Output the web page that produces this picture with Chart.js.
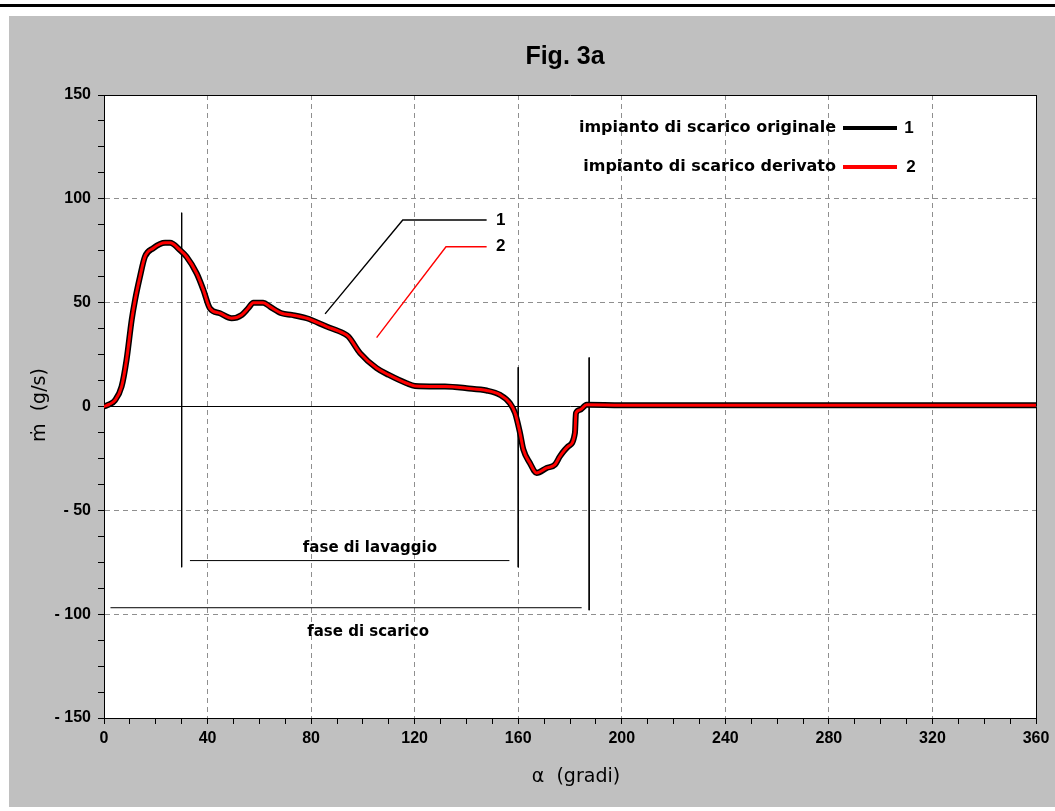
<!DOCTYPE html>
<html lang="it">
<head>
<meta charset="utf-8">
<title>Fig. 3a</title>
<script src="https://cdn.jsdelivr.net/npm/chart.js@4.4.0/dist/chart.umd.min.js"></script>
<style>
  html, body { margin: 0; padding: 0; background: #fff; }
  canvas { display: block; }
</style>
</head>
<body>
<canvas id="fig3a" width="1055" height="811"></canvas>
<script>
// angolo di manovella (gradi) e portata (g/s)
const alpha = [0, 2, 4.2, 6.8, 8.7, 10.7, 12, 13.9, 15.8, 19, 23.6, 25.5, 29.4, 31.9, 35.8, 38.4,
    40.9, 44.8, 49.3, 53.2, 55.7, 57.7, 61.5, 64.1, 68.6, 72.5, 78.3, 86, 92.4, 94.4, 98.9,
    105.3, 110, 116.9, 120.1, 131.7, 140.1, 147.8, 153, 156.8, 158.8, 160.7, 162, 164.5,
    167.1, 171, 174.2, 176.1, 179.3, 181.9, 182.3, 183.9, 186.4, 200, 360];
const originale = [0, 1, 2.9, 9.6, 22.4, 41.7, 51.3, 62.5, 72.1, 76.2, 78.8, 78.8, 75.3, 72.1, 64.1, 56.1,
    47.3, 44.9, 42.5, 44.1, 47.3, 50, 50, 48.1, 44.9, 44.1, 42.5, 38.5, 35.3, 33.7, 25.7,
    18.5, 15.2, 11.2, 9.9, 9.6, 8.8, 7.7, 5.6, 1.6, -3.2, -12.8, -20.8, -27.2,
    -32, -29.6, -28, -24, -19.2, -12.8, -3.2, -1.6, 0.8, 0.6, 0.6];
const derivato = [0, 1, 2.9, 9.6, 22.4, 41.7, 51.3, 62.5, 72.1, 76.2, 78.8, 78.8, 75.3, 72.1, 64.1, 56.1,
    47.3, 44.9, 42.5, 44.1, 47.3, 50, 50, 48.1, 44.9, 44.1, 42.5, 38.5, 35.3, 33.7, 25.7,
    18.5, 15.2, 11.2, 9.9, 9.6, 8.8, 7.7, 5.6, 1.6, -3.2, -12.8, -20.8, -27.2,
    -32, -29.6, -28, -24, -19.2, -12.8, -3.2, -1.6, 0.8, 0.6, 0.6];

const seriesNames = ['impianto di scarico originale', 'impianto di scarico derivato'];
const xRange = [0, 360], xMajor = 40, xMinor = 10;
const yRange = [-150, 150], yMajor = 50, yMinor = 12.5;

// segni delle fasi (in unita' del grafico)
const phaseMarks = [[30, 93.3, -77.4], [160, 18.9, -77.4], [187.4, 23.6, -98.1]];  // x, y alto, y basso
const phaseSpans = [[33.2, 156.6, -74.2], [2.5, 184.5, -96.9]];                   // x1, x2, y
const phaseLabels = [['fase di lavaggio', 102.7, -68.4], ['fase di scarico', 102, -108.7]];
const leader1 = [[85.4, 44.6], [115.4, 89.8], [147.8, 89.8]];
const leader2 = [[105.3, 33.2], [132.1, 76.9], [147.8, 76.9]];

const W = 1055, H = 811;
const SANS = '"Liberation Sans", Arial, sans-serif';
const WIDE = '"DejaVu Sans", Verdana, sans-serif';

function pts(xs, ys) { return xs.map((x, i) => ({x: x, y: ys[i]})); }
function pairs(list) { return list.map(p => ({x: p[0], y: p[1]})); }

const annoSets = [];
phaseMarks.forEach(m => annoSets.push({data: [{x: m[0], y: m[1]}, {x: m[0], y: m[2]}], borderColor: '#000', borderWidth: 1}));
phaseSpans.forEach(s => annoSets.push({data: [{x: s[0], y: s[2]}, {x: s[1], y: s[2]}], borderColor: '#000', borderWidth: 1}));
annoSets.push({data: pairs(leader1), borderColor: '#000', borderWidth: 1.4});
annoSets.push({data: pairs(leader2), borderColor: '#ff0000', borderWidth: 1.4});
annoSets.forEach(d => { d.showLine = true; d.pointRadius = 0; d.order = 3; });

function fmtY(v) {
    if (v % yMajor !== 0) return '';
    return v < 0 ? '- ' + (-v) : String(v);
}

const paper = {
    id: 'paper',
    beforeDraw(chart) {
        const ctx = chart.ctx, a = chart.chartArea;
        ctx.save();
        ctx.fillStyle = '#fff';
        ctx.fillRect(0, 0, W, H);
        ctx.fillStyle = '#000';
        ctx.fillRect(0, 4, W, 3);
        ctx.fillStyle = '#c0c0c0';
        ctx.fillRect(9, 16, W - 9, 791);
        ctx.fillStyle = '#fff';
        ctx.fillRect(a.left, a.top, a.right - a.left, a.bottom - a.top);
        ctx.restore();
    },
    afterDraw(chart) {
        const ctx = chart.ctx, xs = chart.scales.x, ys = chart.scales.y;
        ctx.save();
        ctx.fillStyle = '#000';
        ctx.textAlign = 'center';
        ctx.textBaseline = 'middle';

        ctx.font = 'bold 25px ' + SANS;
        ctx.fillText('Fig. 3a', 565, 57);

        ctx.font = '19px ' + WIDE;
        ctx.fillText('\u03b1  (gradi)', 576, 777);
        ctx.save();
        ctx.translate(40, 405);
        ctx.rotate(-Math.PI / 2);
        ctx.fillText('\u1e41  (g/s)', 0, 0);
        ctx.restore();

        // legenda
        ctx.font = 'bold 16px ' + WIDE;
        ctx.textAlign = 'right';
        ctx.fillText(seriesNames[0], 836, 128);
        ctx.fillText(seriesNames[1], 836, 167);
        ctx.lineWidth = 4;
        ctx.strokeStyle = '#000';
        ctx.beginPath(); ctx.moveTo(843, 128); ctx.lineTo(897, 128); ctx.stroke();
        ctx.strokeStyle = '#ff0000';
        ctx.beginPath(); ctx.moveTo(843, 167); ctx.lineTo(897, 167); ctx.stroke();
        ctx.textAlign = 'center';
        ctx.font = 'bold 17px ' + SANS;
        ctx.fillText('1', 909, 128);
        ctx.fillText('2', 911, 167);

        // numeri dei richiami
        ctx.fillText('1', xs.getPixelForValue(leader1[2][0]) + 14, ys.getPixelForValue(leader1[2][1]));
        ctx.fillText('2', xs.getPixelForValue(leader2[2][0]) + 14, ys.getPixelForValue(leader2[2][1]));

        ctx.font = 'bold 15px ' + WIDE;
        phaseLabels.forEach(l => ctx.fillText(l[0], xs.getPixelForValue(l[1]), ys.getPixelForValue(l[2])));
        ctx.restore();
    }
};

function gridColor(major, edges) {
    return c => {
        if (!c.tick) return '#000';
        const v = c.tick.value;
        if (edges.includes(v)) return '#000';
        return v % major === 0 ? '#8f8f8f' : 'rgba(0,0,0,0)';
    };
}
function gridDash(major, edges) {
    return c => (c.tick && c.tick.value % major === 0 && !edges.includes(c.tick.value)) ? [5, 4] : [];
}

new Chart(document.getElementById('fig3a'), {
    type: 'scatter',
    data: {
        datasets: [
            {label: seriesNames[1], data: pts(alpha, derivato), borderColor: '#ff0000', borderWidth: 3, order: 0},
            {label: seriesNames[0], data: pts(alpha, originale), borderColor: '#000', borderWidth: 6, order: 1}
        ].map(d => Object.assign(d, {showLine: true, pointRadius: 0, cubicInterpolationMode: 'monotone',
            borderJoinStyle: 'round', borderCapStyle: 'round'}))
            .concat(annoSets)
    },
    options: {
        responsive: false,
        animation: false,
        devicePixelRatio: 1,
        events: [],
        layout: {padding: {left: 0, right: 19, top: 95, bottom: 0}},
        plugins: {legend: {display: false}, tooltip: {enabled: false}, title: {display: false}},
        scales: {
            x: {
                type: 'linear', min: xRange[0], max: xRange[1],
                afterFit: s => { s.height = 93; },
                ticks: {
                    stepSize: xMinor, autoSkip: false, maxRotation: 0, padding: 5, color: '#000',
                    font: {family: SANS, size: 16, weight: 'bold'},
                    callback: v => v % xMajor === 0 ? String(v) : ''
                },
                grid: {color: gridColor(xMajor, [0, 360]), tickColor: '#000', tickLength: 6, lineWidth: 1},
                border: {color: '#000', width: 1, dash: gridDash(xMajor, [0, 360])}
            },
            y: {
                type: 'linear', min: yRange[0], max: yRange[1],
                afterFit: s => { s.width = 104; },
                ticks: {
                    stepSize: yMinor, autoSkip: false, padding: 7, color: '#000',
                    font: {family: SANS, size: 16, weight: 'bold'},
                    callback: fmtY
                },
                grid: {color: gridColor(yMajor, [-150, 0, 150]), tickColor: '#000', tickLength: 6, lineWidth: 1},
                border: {color: '#000', width: 1, dash: gridDash(yMajor, [-150, 0, 150])}
            }
        }
    },
    plugins: [paper]
});
</script>
</body>
</html>
